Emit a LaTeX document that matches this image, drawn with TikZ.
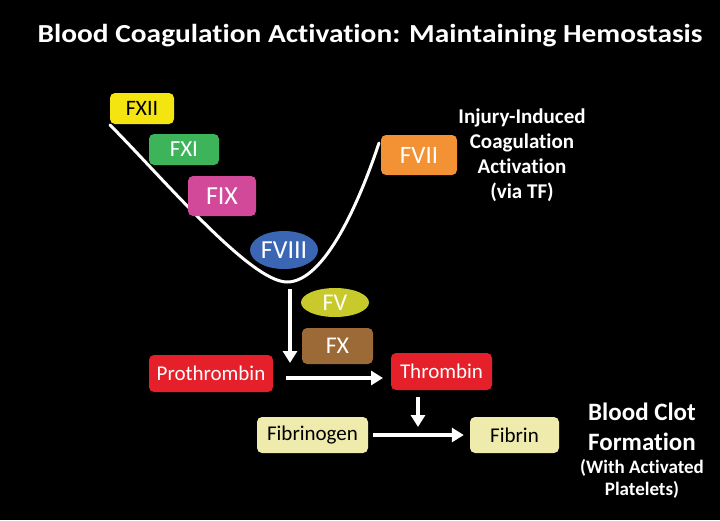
\documentclass[tikz,border=0pt]{standalone}
\usepackage{fontspec}
\setmainfont{Carlito}[Ligatures=NoCommon]
\usetikzlibrary{shapes.geometric,arrows.meta}
\definecolor{cYel}{HTML}{F4E40F}
\definecolor{cGrn}{HTML}{3DB35A}
\definecolor{cMag}{HTML}{D2499A}
\definecolor{cBlu}{HTML}{3A66B4}
\definecolor{cOrg}{HTML}{F39234}
\definecolor{cFV}{HTML}{C8C92B}
\definecolor{cFX}{HTML}{9B6A36}
\definecolor{cRed}{HTML}{E5202A}
\definecolor{cFib}{HTML}{EEEBAD}
\tikzset{
  fbox/.style={rectangle, rounded corners=5pt, inner sep=0pt, font=\fontsize{22}{24}\selectfont},
  fell/.style={ellipse, inner sep=0pt, font=\fontsize{24}{26}\selectfont},
  warrow/.style={draw=white, line width=3.5pt, -{Triangle[length=12pt,width=14pt]}},
  lbl/.style={text=white, font=\bfseries, align=center}
}
\begin{document}
\begin{tikzpicture}[x=1pt,y=-1pt]
\useasboundingbox[fill=black] (0,0) rectangle (720,520);
\node[lbl, font=\fontsize{26}{30}\bfseries\selectfont] (title) at (370,36) {\scalebox{1.13}[1]{Blood Coagulation Activation: Maintaining Hemostasis}};

% curve
\coordinate (cstart) at (110,125);
\coordinate (cbot) at (287,282);
\coordinate (cend) at (379,143);
\draw[white, line width=3pt, line cap=round] (cstart) .. controls (160,175) and (250,282) .. (cbot) .. controls (325,282) and (360,200) .. (cend);

\node[fbox, fill=cYel, text=black, minimum width=64pt, minimum height=31pt] (fxii) at (142,108.5) {FXII};
\node[fbox, fill=cGrn, text=white, minimum width=70pt, minimum height=31pt, font=\fontsize{23}{26}\selectfont] (fxi) at (184,149.5) {FXI};
\node[fbox, fill=cMag, text=white, minimum width=68pt, minimum height=40pt, font=\fontsize{26}{28}\selectfont] (fix) at (222,196) {FIX};
\node[fell, fill=cBlu, text=white, minimum width=68pt, minimum height=38pt, font=\fontsize{26}{28}\selectfont] (fviii) at (284,250) {FVIII};
\node[fbox, fill=cOrg, text=white, minimum width=76pt, minimum height=40pt, font=\fontsize{25}{28}\selectfont] (fvii) at (419,155) {FVII};
\node[lbl, font=\fontsize{21}{25}\bfseries\selectfont] (injury) at (522,155) {Injury-Induced\\Coagulation\\Activation\\(via TF)};

\node[fell, fill=cFV, text=white, minimum width=68pt, minimum height=29pt] (fv) at (335,302.5) {FV};
\node[fbox, fill=cFX, text=white, minimum width=71pt, minimum height=36pt, font=\fontsize{24}{26}\selectfont] (fx) at (337.5,346) {FX};

\node[fbox, fill=cRed, text=white, minimum width=124pt, minimum height=37pt, font=\fontsize{21}{24}\selectfont] (pro) at (211,373.5) {Prothrombin};
\node[fbox, fill=cRed, text=white, minimum width=101pt, minimum height=37pt, font=\fontsize{21}{24}\selectfont] (thr) at (441.5,371.5) {Thrombin};
\node[fbox, fill=cFib, text=black, minimum width=111pt, minimum height=36pt, font=\fontsize{21}{24}\selectfont] (fbg) at (312.5,435) {Fibrinogen};
\node[fbox, fill=cFib, text=black, minimum width=89pt, minimum height=36pt, font=\fontsize{21}{24}\selectfont] (fbn) at (514.5,435) {Fibrin};

\node[lbl, font=\fontsize{25}{30}\bfseries\selectfont] (clot) at (642,427) {Blood Clot\\Formation};
\node[lbl, font=\fontsize{19}{22}\bfseries\selectfont] (plt) at (642,479) {(With Activated\\Platelets)};

\coordinate (vtop) at (290,289);
\coordinate (vbot) at (290,363);
\draw[warrow] (vtop) -- (vbot);
\coordinate (h1s) at (286,378);
\coordinate (h1e) at (383,378);
\draw[warrow] (h1s) -- (h1e);
\coordinate (dm) at (418,427);
\draw[warrow, shorten <=7pt] (thr.south -| dm) -- (dm);
\draw[warrow, shorten <=5pt, shorten >=6pt] (fbg.east) -- (fbn.west);
\end{tikzpicture}
\end{document}
